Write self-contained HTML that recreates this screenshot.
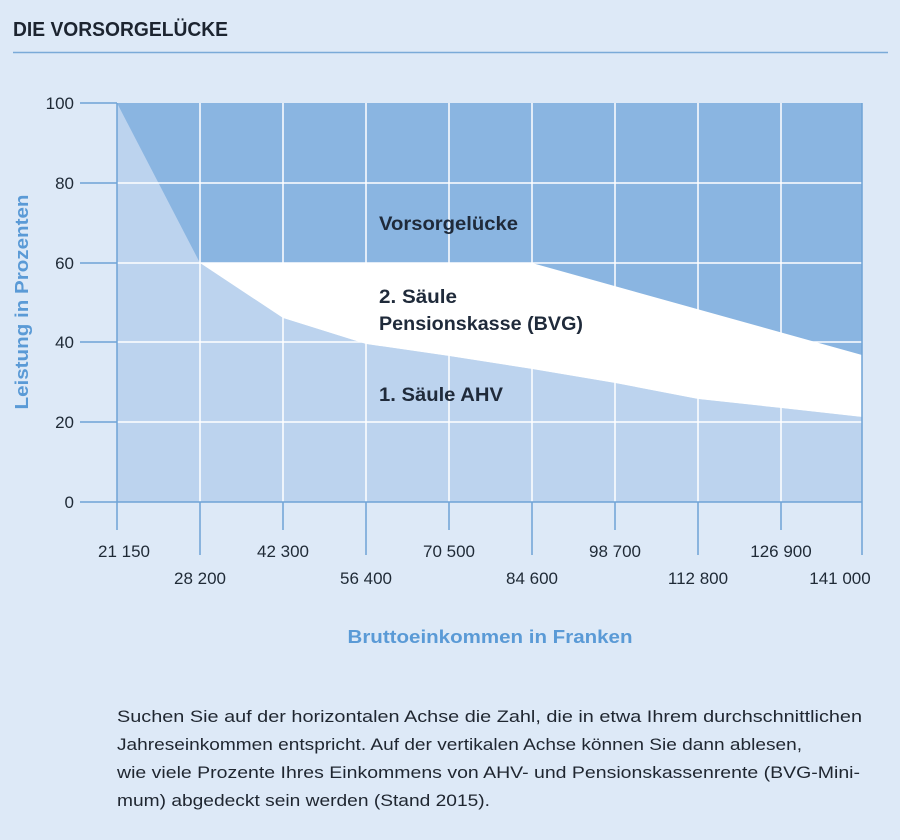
<!DOCTYPE html>
<html><head><meta charset="utf-8"><style>
html,body{margin:0;padding:0;background:#dde9f7;}
body{width:900px;height:835px;overflow:hidden;font-family:"Liberation Sans",sans-serif;}
</style></head><body>
<svg width="900" height="835" viewBox="0 0 900 835" xmlns="http://www.w3.org/2000/svg" font-family="Liberation Sans, sans-serif">
<rect width="900" height="835" fill="#dde9f7"/>
<text x="13" y="36" font-size="20" font-weight="bold" fill="#1c2430" textLength="215" lengthAdjust="spacingAndGlyphs">DIE VORSORGELÜCKE</text>
<line x1="13" y1="52.5" x2="888" y2="52.5" stroke="#7aaad8" stroke-width="1.5"/>
<!-- areas -->
<rect x="117" y="103" width="745" height="399" fill="#8ab5e1"/>
<polygon points="117,103 200,263 283,318 366,344 449,356 532,369 615,383 698,399 781,408 862,417 862,502 117,502" fill="#bcd3ee"/>
<!-- grid -->
<g stroke="#ffffff" stroke-width="1.5">
<line x1="200" y1="103" x2="200" y2="502"/><line x1="283" y1="103" x2="283" y2="502"/>
<line x1="366" y1="103" x2="366" y2="502"/><line x1="449" y1="103" x2="449" y2="502"/>
<line x1="532" y1="103" x2="532" y2="502"/><line x1="615" y1="103" x2="615" y2="502"/>
<line x1="698" y1="103" x2="698" y2="502"/><line x1="781" y1="103" x2="781" y2="502"/>
<line x1="117" y1="183" x2="862" y2="183"/><line x1="117" y1="263" x2="862" y2="263"/>
<line x1="117" y1="342" x2="862" y2="342"/><line x1="117" y1="422" x2="862" y2="422"/>
</g>
<polygon points="200,263 532,263 862,355 862,417 781,408 698,399 615,383 532,369 449,356 366,344 283,318" fill="#ffffff"/>
<!-- axis lines -->
<g stroke="#6fa3d6" stroke-width="1.5">
<line x1="80" y1="103" x2="117" y2="103"/><line x1="80" y1="183" x2="117" y2="183"/>
<line x1="80" y1="263" x2="117" y2="263"/><line x1="80" y1="342" x2="117" y2="342"/>
<line x1="80" y1="422" x2="117" y2="422"/><line x1="80" y1="502" x2="862" y2="502"/>
<line x1="117" y1="103" x2="117" y2="530"/>
<line x1="200" y1="502" x2="200" y2="555"/><line x1="283" y1="502" x2="283" y2="530"/>
<line x1="366" y1="502" x2="366" y2="555"/><line x1="449" y1="502" x2="449" y2="530"/>
<line x1="532" y1="502" x2="532" y2="555"/><line x1="615" y1="502" x2="615" y2="530"/>
<line x1="698" y1="502" x2="698" y2="555"/><line x1="781" y1="502" x2="781" y2="530"/>
<line x1="862" y1="103" x2="862" y2="555"/>
</g>
<g font-size="17" fill="#1f2a36" text-anchor="end">
<text x="74" y="109">100</text><text x="74" y="189">80</text><text x="74" y="269">60</text>
<text x="74" y="348">40</text><text x="74" y="428">20</text><text x="74" y="508">0</text>
</g>
<g font-size="17" fill="#1f2a36" text-anchor="middle">
<text x="124" y="557">21 150</text><text x="283" y="557">42 300</text><text x="449" y="557">70 500</text>
<text x="615" y="557">98 700</text><text x="781" y="557">126 900</text>
<text x="200" y="584">28 200</text><text x="366" y="584">56 400</text><text x="532" y="584">84 600</text>
<text x="698" y="584">112 800</text><text x="840" y="584">141 000</text>
</g>
<text x="490" y="643" font-size="18" font-weight="bold" fill="#5a9ad6" text-anchor="middle" textLength="285" lengthAdjust="spacingAndGlyphs">Bruttoeinkommen in Franken</text>
<text transform="translate(28,302) rotate(-90)" font-size="18" font-weight="bold" fill="#5a9ad6" text-anchor="middle" textLength="215" lengthAdjust="spacingAndGlyphs">Leistung in Prozenten</text>
<g font-size="19" font-weight="bold" fill="#1f2a3a">
<text x="379" y="230" textLength="139" lengthAdjust="spacingAndGlyphs">Vorsorgelücke</text>
<text x="379" y="303" textLength="78" lengthAdjust="spacingAndGlyphs">2. Säule</text>
<text x="379" y="330" textLength="204" lengthAdjust="spacingAndGlyphs">Pensionskasse (BVG)</text>
<text x="379" y="401" textLength="124" lengthAdjust="spacingAndGlyphs">1. Säule AHV</text>
</g>
<g font-size="17" fill="#1f2630">
<text x="117" y="722" textLength="745" lengthAdjust="spacingAndGlyphs">Suchen Sie auf der horizontalen Achse die Zahl, die in etwa Ihrem durchschnittlichen</text>
<text x="117" y="750" textLength="685" lengthAdjust="spacingAndGlyphs">Jahreseinkommen entspricht. Auf der vertikalen Achse können Sie dann ablesen,</text>
<text x="117" y="778" textLength="743" lengthAdjust="spacingAndGlyphs">wie viele Prozente Ihres Einkommens von AHV- und Pensionskassenrente (BVG-Mini-</text>
<text x="117" y="806" textLength="373" lengthAdjust="spacingAndGlyphs">mum) abgedeckt sein werden (Stand 2015).</text>
</g>
</svg>
</body></html>
